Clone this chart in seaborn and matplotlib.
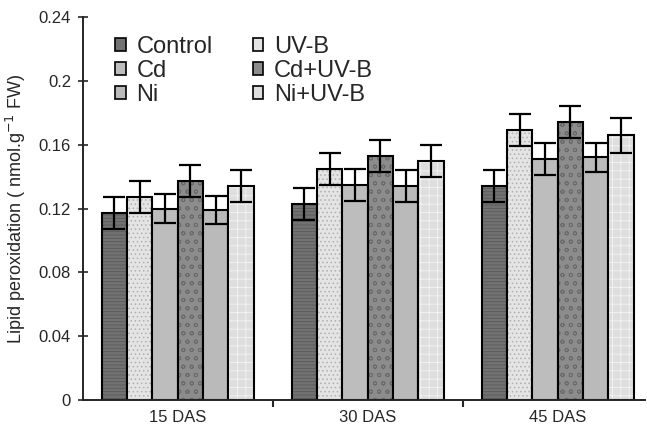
import matplotlib
matplotlib.use("Agg")
import matplotlib.pyplot as plt
import seaborn as sns
import pandas as pd
import numpy as np
from matplotlib.colors import to_rgba
from matplotlib.patches import Patch

groups = ["15 DAS", "30 DAS", "45 DAS"]
treatments = ["Control", "UV-B", "Cd", "Cd+UV-B", "Ni", "Ni+UV-B"]
control = [0.117, 0.123, 0.134]
uvb = [0.127, 0.145, 0.169]
cd = [0.120, 0.135, 0.151]
cd_uvb = [0.137, 0.153, 0.174]
ni = [0.119, 0.134, 0.152]
ni_uvb = [0.134, 0.150, 0.166]
err_control = [0.010, 0.010, 0.010]
err_uvb = [0.010, 0.010, 0.010]
err_cd = [0.009, 0.010, 0.010]
err_cd_uvb = [0.010, 0.010, 0.010]
err_ni = [0.009, 0.010, 0.009]
err_ni_uvb = [0.010, 0.010, 0.011]
yticks = [0, 0.04, 0.08, 0.12, 0.16, 0.2, 0.24]
yticklabels = ["0", "0.04", "0.08", "0.12", "0.16", "0.2", "0.24"]

values = [control, uvb, cd, cd_uvb, ni, ni_uvb]
errors = [err_control, err_uvb, err_cd, err_cd_uvb, err_ni, err_ni_uvb]

rows = []
for t, vals, errs in zip(treatments, values, errors):
    for g, v, e in zip(groups, vals, errs):
        rows.append({"group": g, "treatment": t, "value": v, "err": e})
df = pd.DataFrame(rows)

fills = {"Control": "#727272", "UV-B": "#e4e4e4", "Cd": "#bdbdbd",
         "Cd+UV-B": "#8c8c8c", "Ni": "#bababa", "Ni+UV-B": "#dedede"}
hatches = {"Control": "-----", "UV-B": "....", "Cd": "", "Cd+UV-B": "oo",
           "Ni": "", "Ni+UV-B": "++"}
hcolors = {"Control": "#5a5a5a", "UV-B": "#b0b0b0", "Cd": "#aaaaaa",
           "Cd+UV-B": "#6a6a6a", "Ni": "#aaaaaa", "Ni+UV-B": "#f4f4f4"}

sns.set_style("ticks")
plt.rcParams["font.family"] = ["Liberation Sans", "DejaVu Sans"]
plt.rcParams["hatch.linewidth"] = 0.6

fig = plt.figure(figsize=(6.47, 4.32), dpi=100)
ax = fig.add_axes([0.128, 0.074, 0.869, 0.8866])

sns.barplot(data=df, x="group", y="value", hue="treatment", order=groups,
            hue_order=treatments, palette=fills, errorbar=None, width=0.80,
            edgecolor="black", linewidth=1.5, saturation=1, ax=ax, legend=False)

for t, cont in zip(treatments, ax.containers):
    sub = df[df.treatment == t].set_index("group").loc[groups]
    xs = []
    for p in cont.patches:
        p.set_hatch(hatches[t])
        p._hatch_color = to_rgba(hcolors[t])
        p.stale = True
        xs.append(p.get_x() + p.get_width() / 2)
    ax.errorbar(xs, sub["value"].values, yerr=sub["err"].values, fmt="none",
                ecolor="black", elinewidth=1.6, capsize=8, capthick=1.6, zorder=5)

ax.set_ylim(0, 0.24)
ax.set_xlim(-0.5, 2.46)
ax.set_yticks(yticks)
ax.set_yticklabels(yticklabels, fontsize=12)
ax.set_xticks([0, 1, 2])
ax.set_xticklabels(groups, fontsize=12)
ax.tick_params(axis="x", length=0, pad=7)
ax.tick_params(axis="y", direction="inout", length=7, width=1.2, pad=5)
ax.set_xticks([0.5, 1.5], minor=True)
ax.tick_params(axis="x", which="minor", length=5, width=1.5, direction="out")
ax.set_xlabel("")
ax.set_ylabel("Lipid peroxidation ( nmol.g$^{-1}$ FW)", fontsize=13, labelpad=8)
for s in ["top", "right"]:
    ax.spines[s].set_visible(False)
ax.spines["left"].set_linewidth(1.4)
ax.spines["bottom"].set_linewidth(1.4)

order_leg = ["Control", "Cd", "Ni", "UV-B", "Cd+UV-B", "Ni+UV-B"]
handles = [Patch(facecolor=fills[t], edgecolor="black", linewidth=1.2, label=t)
           for t in order_leg]
ax.legend(handles=handles, ncol=2, loc="upper left", bbox_to_anchor=(0.024, 1.0),
          frameon=False, fontsize=17, handlelength=0.45, handleheight=0.45,
          handletextpad=0.45, columnspacing=1.7, labelspacing=0.08, borderpad=0.3)

fig.savefig("out.png", dpi=100)
